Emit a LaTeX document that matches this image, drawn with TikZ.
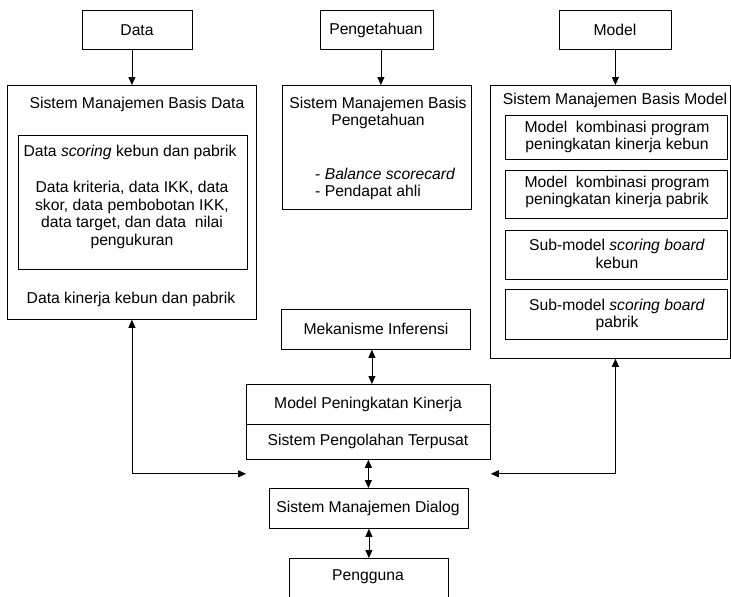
\documentclass[tikz,border=0pt]{standalone}
\usepackage{fontspec}
\setmainfont{Liberation Sans}
\usetikzlibrary{arrows.meta}
\begin{document}
\begin{tikzpicture}[x=1pt,y=-1pt,
  every node/.style={font=\fontsize{15.7}{17.6}\selectfont, inner sep=0pt},
  boxst/.style={draw, line width=0.8pt, anchor=north west},
  arr/.style={-{Triangle[length=8pt,width=7pt]}, line width=0.8pt},
  darr/.style={{Triangle[length=8pt,width=7pt]}-{Triangle[length=8pt,width=7pt]}, line width=0.8pt}]
\useasboundingbox (0,0) rectangle (731,597);
% boxes
\node[boxst, minimum width=110pt, minimum height=39pt] (data) at (82,10) {};
\node[boxst, minimum width=113pt, minimum height=39pt] (peng) at (320,10) {};
\node[boxst, minimum width=112pt, minimum height=39pt] (model) at (559,10) {};
\node[boxst, minimum width=249pt, minimum height=234pt] (smbd) at (7,85) {};
\node[boxst, minimum width=229pt, minimum height=134pt] (dsc) at (18,135) {};
\node[boxst, minimum width=189pt, minimum height=124pt] (smbp) at (282,85) {};
\node[boxst, minimum width=240pt, minimum height=273pt] (smbm) at (490,85) {};
\node[boxst, minimum width=222pt, minimum height=44pt] (m1) at (505,115) {};
\node[boxst, minimum width=222pt, minimum height=48pt] (m2) at (505,170) {};
\node[boxst, minimum width=222pt, minimum height=49pt] (m3) at (505,230) {};
\node[boxst, minimum width=222pt, minimum height=50pt] (m4) at (505,289) {};
\node[boxst, minimum width=189pt, minimum height=40pt] (mek) at (281,309) {};
\node[boxst, minimum width=244pt, minimum height=40pt] (mpk) at (246,384) {};
\node[boxst, minimum width=244pt, minimum height=35pt] (spt) at (246,424) {};
\node[boxst, minimum width=199pt, minimum height=40pt] (dialog) at (269,488) {};
\node[boxst, minimum width=159pt, minimum height=50pt] (user) at (289,558) {};
% texts
\node (tdata) at (137,30) {Data};
\node (tpeng) at (376,30) {Pengetahuan};
\node (tmodel) at (615,30) {Model};
\node (tsmbd) at (137,104) {Sistem Manajemen Basis Data};
\node (tdsc) at (130,152) {Data \textit{scoring} kebun dan pabrik};
\node[align=center] (tdk) at (132,215) {Data kriteria, data IKK, data\\skor, data pembobotan IKK,\\data target, dan data\ \ nilai\\pengukuran};
\node (tkin) at (131,299) {Data kinerja kebun dan pabrik};
\node[align=center] (tsmbp) at (378,113) {Sistem Manajemen Basis\\Pengetahuan};
\node[align=left, anchor=west] (tbsc) at (315,184) {- \textit{Balance scorecard}\\- Pendapat ahli};
\node (tsmbm) at (615,100) {Sistem Manajemen Basis Model};
\node[align=center] (tm1) at (617,137) {Model\ \ kombinasi program\\peningkatan kinerja kebun};
\node[align=center] (tm2) at (617,192) {Model\ \ kombinasi program\\peningkatan kinerja pabrik};
\node[align=center] (tm3) at (617,254) {Sub-model \textit{scoring board}\\kebun};
\node[align=center] (tm4) at (617,315) {Sub-model \textit{scoring board}\\pabrik};
\node (tmek) at (376,329) {Mekanisme Inferensi};
\node (tmpk) at (368,404) {Model Peningkatan Kinerja};
\node (tspt) at (368,441) {Sistem Pengolahan Terpusat};
\node (tdialog) at (368,508) {Sistem Manajemen Dialog};
\node (tuser) at (368,577) {Pengguna};
% connectors
\draw[arr] (smbd.north |- data.south) -- (smbd.north);
\draw[arr] ([xshift=4pt]peng.south) -- ([xshift=4pt]peng.south |- smbp.north);
\draw[arr] (model.south) -- (model.south |- smbm.north);
\draw[darr] ([xshift=-4pt]mek.south) -- ([xshift=-4pt]mek.south |- mpk.north);
\draw[darr] (spt.south) -- (spt.south |- dialog.north);
\draw[darr] (dialog.south) -- (dialog.south |- user.north);
\draw[darr] (smbd.south) |- ([yshift=-14pt]spt.south west);
\draw[darr] ([xshift=5pt]smbm.south) |- ([yshift=-14pt]spt.south east);
\end{tikzpicture}
\end{document}
